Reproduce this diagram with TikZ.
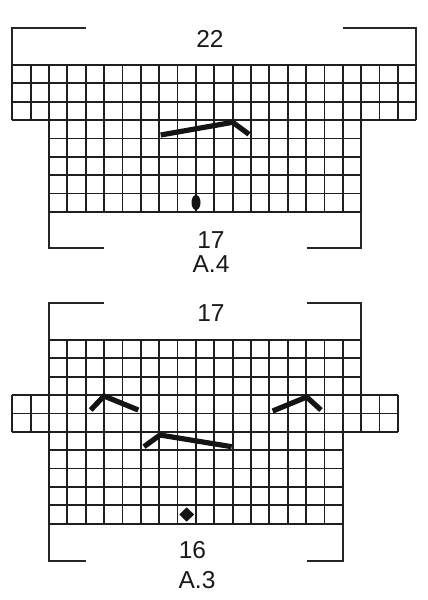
\documentclass[tikz,border=0pt]{standalone}
\usepackage{fontspec}
\setmainfont{Liberation Sans}
\usetikzlibrary{shapes.geometric}
\begin{document}
\begin{tikzpicture}[x=1pt,y=-1pt,
  gridline/.style={line width=1.8pt, color=black!88},
  bracket/.style={line width=1.7pt, color=black!85},
  sym/.style={line width=5.2pt, color=black!92},
  lbl/.style={font=\fontsize{24.5}{26}\selectfont, inner sep=0pt, anchor=center, text=black!90}]
\useasboundingbox[fill=white] (0,0) rectangle (428,600);
% ---------- A.4 grid ----------
\begin{scope}[shift={(12.3,65)}, x=18.36pt, y=-18.36pt]
  \foreach \i in {0,...,22} \draw[gridline] (\i,0) -- (\i,3);
  \foreach \j in {0,...,3} \draw[gridline] (0,\j) -- (22,\j);
  \foreach \i in {2,...,19} \draw[gridline] (\i,3) -- (\i,8);
  \foreach \j in {4,...,8} \draw[gridline] (2,\j) -- (19,\j);
\end{scope}
% ---------- A.3 grid ----------
\begin{scope}[shift={(12.3,340)}, x=18.36pt, y=-18.36pt]
  \foreach \i in {2,...,19} \draw[gridline] (\i,0) -- (\i,3);
  \foreach \j in {0,...,2} \draw[gridline] (2,\j) -- (19,\j);
  \foreach \i in {0,...,21} \draw[gridline] (\i,3) -- (\i,5);
  \foreach \j in {3,...,5} \draw[gridline] (0,\j) -- (21,\j);
  \foreach \i in {2,...,18} \draw[gridline] (\i,5) -- (\i,10);
  \foreach \j in {6,...,10} \draw[gridline] (2,\j) -- (18,\j);
\end{scope}
% ---------- brackets ----------
\draw[bracket] (12.3,65) -- (12.3,28.3) -- (86,28.3);
\draw[bracket] (343.3,28.3) -- (416.2,28.3) -- (416.2,65);
\draw[bracket] (49,211.9) -- (49,247.7) -- (104,247.7);
\draw[bracket] (306.7,247.7) -- (361.1,247.7) -- (361.1,211.9);
\draw[bracket] (49,340) -- (49,303.3) -- (104,303.3);
\draw[bracket] (306.7,303.3) -- (361.1,303.3) -- (361.1,340);
\draw[bracket] (49,523.6) -- (49,560.7) -- (86,560.7);
\draw[bracket] (306.7,560.7) -- (342.8,560.7) -- (342.8,523.6);
% ---------- labels ----------
\node[lbl] (n22) at (210,39) {22};
\node[lbl] (n17a) at (211,240) {17};
\node[lbl] (a4) at (211,264) {A.4};
\node[lbl] (n17b) at (211,313) {17};
\node[lbl] (n16) at (192.5,550.5) {16};
\node[lbl] (a3) at (197,580) {A.3};
% ---------- symbols ----------
\draw[sym] (160.7,135) -- (232.7,122.3) -- (249,134.3);
\draw[sym] (90.7,410) -- (104,396) -- (138.3,410);
\draw[sym] (272.7,411) -- (306.7,397) -- (321,410);
\draw[sym] (144,446.7) -- (160,435) -- (231.7,446.7);
\node[ellipse, fill=black!92, minimum width=9, minimum height=15, inner sep=0pt] (oval) at (196,202.5) {};
\node[diamond, fill=black!92, minimum width=15, minimum height=14.5, inner sep=0pt] (dia) at (186.7,514.5) {};
\end{tikzpicture}
\end{document}
